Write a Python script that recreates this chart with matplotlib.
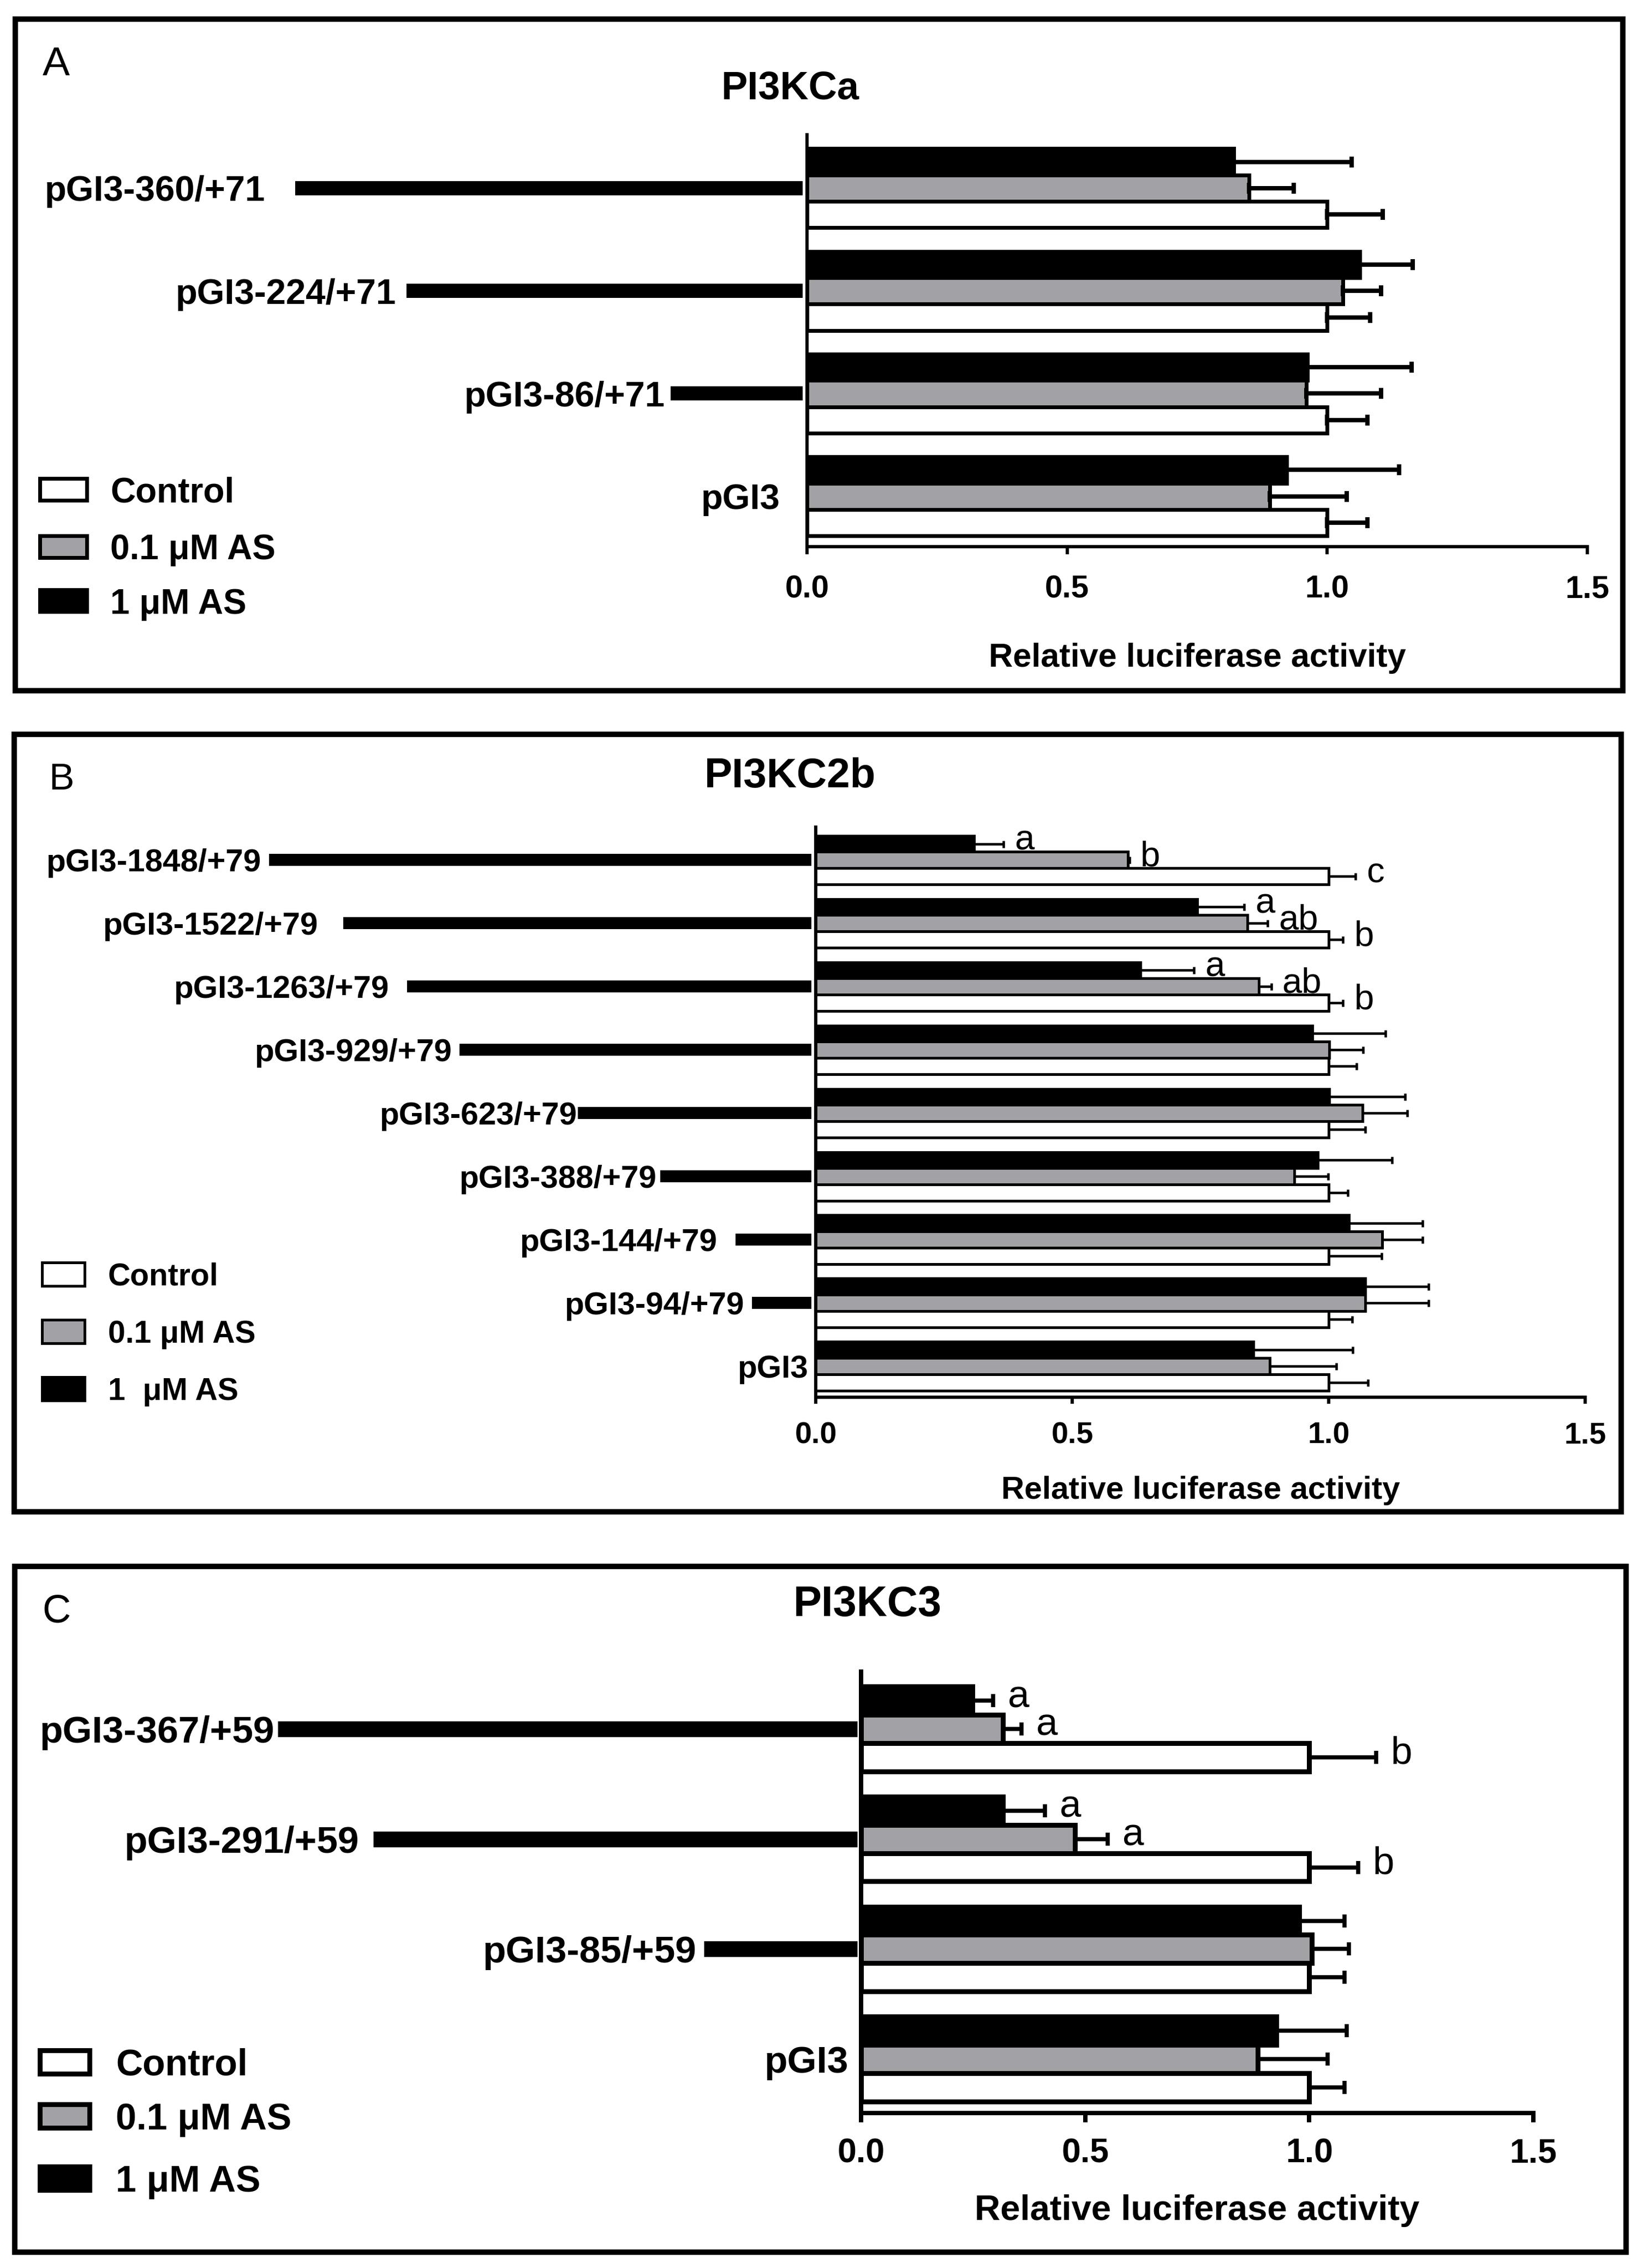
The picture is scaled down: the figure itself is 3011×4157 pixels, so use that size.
import numpy as np
import matplotlib
matplotlib.use('Agg')
import matplotlib.pyplot as plt
from matplotlib.patches import Rectangle

plt.rcParams['font.family'] = ['Liberation Sans', 'DejaVu Sans']

W, H = 3011, 4157
DPI = 100
PT = 72 / DPI  # points per pixel

GRAY = '#a2a2a6'

# ---- data (rows listed top to bottom) ----
# Panel A: PI3KCa
a_names = ['pGI3-360/+71', 'pGI3-224/+71', 'pGI3-86/+71', 'pGI3']
a_ctrl = [1.0, 1.0, 1.0, 1.0]
a_ctrl_err = [0.107, 0.083, 0.077, 0.077]
a_low = [0.85, 1.03, 0.96, 0.89]
a_low_err = [0.086, 0.073, 0.143, 0.147]
a_high = [0.82, 1.063, 0.962, 0.922]
a_high_err = [0.227, 0.101, 0.200, 0.216]
a_promoter = [0.984, 0.770, 0.262, 0.0]

# Panel B: PI3KC2b
b_names = ['pGI3-1848/+79', 'pGI3-1522/+79', 'pGI3-1263/+79', 'pGI3-929/+79',
           'pGI3-623/+79', 'pGI3-388/+79', 'pGI3-144/+79', 'pGI3-94/+79', 'pGI3']
b_ctrl = [1.0, 1.0, 1.0, 1.0, 1.0, 1.0, 1.0, 1.0, 1.0]
b_ctrl_err = [0.052, 0.028, 0.028, 0.054, 0.071, 0.037, 0.103, 0.046, 0.077]
b_low = [0.608, 0.841, 0.864, 1.001, 1.066, 0.933, 1.104, 1.071, 0.885]
b_low_err = [0.004, 0.040, 0.024, 0.066, 0.087, 0.066, 0.079, 0.124, 0.130]
b_high = [0.309, 0.744, 0.633, 0.968, 1.001, 0.979, 1.039, 1.071, 0.853]
b_high_err = [0.057, 0.091, 0.104, 0.143, 0.148, 0.144, 0.144, 0.124, 0.194]
b_ctrl_sig = ['c', 'b', 'b', '', '', '', '', '', '']
b_low_sig = ['b', 'ab', 'ab', '', '', '', '', '', '']
b_high_sig = ['a', 'a', 'a', '', '', '', '', '', '']
b_promoter = [1.066, 0.921, 0.797, 0.695, 0.464, 0.303, 0.156, 0.124, 0.0]

# Panel C: PI3KC3
c_names = ['pGI3-367/+59', 'pGI3-291/+59', 'pGI3-85/+59', 'pGI3']
c_ctrl = [1.0, 1.0, 1.0, 1.0]
c_ctrl_err = [0.149, 0.109, 0.079, 0.079]
c_low = [0.316, 0.477, 1.006, 0.885]
c_low_err = [0.042, 0.073, 0.082, 0.156]
c_high = [0.248, 0.316, 0.978, 0.927]
c_high_err = [0.047, 0.094, 0.101, 0.157]
c_ctrl_sig = ['b', 'b', '', '']
c_low_sig = ['a', 'a', '', '']
c_high_sig = ['a', 'a', '', '']
c_promoter = [1.302, 1.088, 0.351, 0.0]

xticks = [0.0, 0.5, 1.0, 1.5]
xlabel = 'Relative luciferase activity'

# ---- layout (pixels in the output image) ----
panels = [
    dict(tag='A', title='PI3KCa', names=a_names,
         series=[(a_ctrl, a_ctrl_err, None), (a_low, a_low_err, None), (a_high, a_high_err, None)],
         promoter=a_promoter, legend=['Control', '0.1 \u03bcM AS', '1 \u03bcM AS'],
         frame=(28, 35, 2974, 1266), axes=(1479, 2909, 247, 1002),
         tag_xy=(78, 138), title_xy=(1448, 182), xlabel_y=1200,
         label_gap=[55, 19, 10, 49],
         leg_box=(73, 159, 40), leg_text_x=202, leg_y=[897, 1002, 1101],
         edge=7, err_lw=8, cap=20, spine=6, line_w=26, tick_len=14, tick_w=6, tick_pad=38,
         fs_tag=54, fs_title=52, fs_label=47, fs_leg=46, fs_tick=42, fs_xlabel=44, fs_sig=42,
         sig_dx=22),
    dict(tag='B', title='PI3KC2b', names=b_names,
         series=[(b_ctrl, b_ctrl_err, b_ctrl_sig), (b_low, b_low_err, b_low_sig),
                 (b_high, b_high_err, b_high_sig)],
         promoter=b_promoter, legend=['Control', '0.1 \u03bcM AS', '1  \u03bcM AS'],
         frame=(26, 1346, 2971, 2771), axes=(1495, 2905, 1516, 2561),
         tag_xy=(89, 1447), title_xy=(1448, 1443), xlabel_y=2726,
         label_gap=[15, 47, 33, 14, 2, 7, 34, 15, 14],
         leg_box=(77, 155, 43), leg_text_x=198, leg_y=[2335, 2440, 2545],
         edge=5, err_lw=4.5, cap=13, spine=6, line_w=22, tick_len=12, tick_w=6, tick_pad=32,
         fs_tag=50, fs_title=55, fs_label=42, fs_leg=41, fs_tick=40, fs_xlabel=42, fs_sig=47,
         sig_dx=20),
    dict(tag='C', title='PI3KC3', names=c_names,
         series=[(c_ctrl, c_ctrl_err, c_ctrl_sig), (c_low, c_low_err, c_low_sig),
                 (c_high, c_high_err, c_high_sig)],
         promoter=c_promoter, legend=['Control', '0.1 \u03bcM AS', '1 \u03bcM AS'],
         frame=(27, 2871, 2980, 4128), axes=(1578, 2810, 3064, 3873),
         tag_xy=(77, 2973), title_xy=(1590, 2962), xlabel_y=4045,
         label_gap=[6, 26, 13, 23],
         leg_box=(73, 164, 43), leg_text_x=212, leg_y=[3779, 3878, 3992],
         edge=9, err_lw=7.5, cap=24, spine=8, line_w=29, tick_len=17, tick_w=8, tick_pad=27,
         fs_tag=52, fs_title=56, fs_label=50, fs_leg=49, fs_tick=45, fs_xlabel=47, fs_sig=51,
         sig_dx=27),
]

fills = ['white', GRAY, 'black']


def fx(x):
    return x / W


def fy(y):
    return 1 - y / H


fig = plt.figure(figsize=(W / DPI, H / DPI), dpi=DPI)

for p in panels:
    n = len(p['names'])
    x0, x1, ytop, ybot = p['axes']
    ax = fig.add_axes([fx(x0), fy(ybot), fx(x1) - fx(x0), fy(ytop) - fy(ybot)])
    ax.set_xlim(0, 1.5)
    ax.set_ylim(-0.49, n - 0.48)
    ax.patch.set_visible(False)

    pos = np.arange(n)[::-1].astype(float)
    h = 0.257
    for k, (vals, errs, sig) in enumerate(p['series']):
        yk = pos + (k - 1) * h
        ax.barh(yk, vals, height=h, color=fills[k], edgecolor='black',
                linewidth=p['edge'] * PT, zorder=2)
        ax.errorbar(vals, yk, xerr=[np.zeros(n), errs], fmt='none', ecolor='black',
                    elinewidth=p['err_lw'] * PT, capsize=p['cap'] * PT / 2,
                    capthick=p['err_lw'] * PT, zorder=3)
        if sig is not None:
            for v, e, y, s in zip(vals, errs, yk, sig):
                if s:
                    ax.annotate(s, xy=(v + e, y), xytext=(p['sig_dx'] * PT, 6 * PT),
                                textcoords='offset points', ha='left', va='center',
                                fontsize=p['fs_sig'], annotation_clip=False)

    # promoter constructs drawn to the left of the axis
    for name, L, y, gap in zip(p['names'], p['promoter'], pos, p['label_gap']):
        if L > 0:
            ax.plot([-L, -0.008], [y, y], color='black', lw=p['line_w'] * PT,
                    solid_capstyle='butt', clip_on=False)
            anchor = -L
        else:
            anchor = 0
        ax.annotate(name, xy=(anchor, y), xytext=(-gap * PT, 0), textcoords='offset points',
                    ha='right', va='center_baseline', fontsize=p['fs_label'],
                    fontweight='bold', annotation_clip=False)

    for side in ['top', 'right']:
        ax.spines[side].set_visible(False)
    for side in ['left', 'bottom']:
        ax.spines[side].set_linewidth(p['spine'] * PT)
    ax.set_yticks([])
    ax.set_xticks(xticks)
    ax.tick_params(axis='x', direction='out', length=p['tick_len'] * PT,
                   width=p['tick_w'] * PT, pad=p['tick_pad'] * PT, labelsize=p['fs_tick'])
    for lbl in ax.get_xticklabels():
        lbl.set_fontweight('bold')

    fig.text(fx((x0 + x1) / 2), fy(p['xlabel_y']), xlabel, ha='center', va='center_baseline',
             fontsize=p['fs_xlabel'], fontweight='bold')
    fig.text(fx(p['title_xy'][0]), fy(p['title_xy'][1]), p['title'], ha='center',
             va='baseline', fontsize=p['fs_title'], fontweight='bold')
    fig.text(fx(p['tag_xy'][0]), fy(p['tag_xy'][1]), p['tag'], ha='left', va='baseline',
             fontsize=p['fs_tag'])

    # legend
    bx0, bx1, bh = p['leg_box']
    for lab, col, yc in zip(p['legend'], fills, p['leg_y']):
        fig.add_artist(Rectangle((fx(bx0), fy(yc + bh / 2)), fx(bx1) - fx(bx0), bh / H,
                                 transform=fig.transFigure, facecolor=col, edgecolor='black',
                                 linewidth=p['edge'] * PT))
        fig.text(fx(p['leg_text_x']), fy(yc), lab, ha='left', va='center_baseline',
                 fontsize=p['fs_leg'], fontweight='bold')

    # panel frame
    rx0, ry0, rx1, ry1 = p['frame']
    fig.add_artist(Rectangle((fx(rx0), fy(ry1)), fx(rx1) - fx(rx0), (ry1 - ry0) / H,
                             transform=fig.transFigure, fill=False, edgecolor='black',
                             linewidth=10 * PT, joinstyle='miter'))

fig.savefig('out.png', dpi=DPI)
